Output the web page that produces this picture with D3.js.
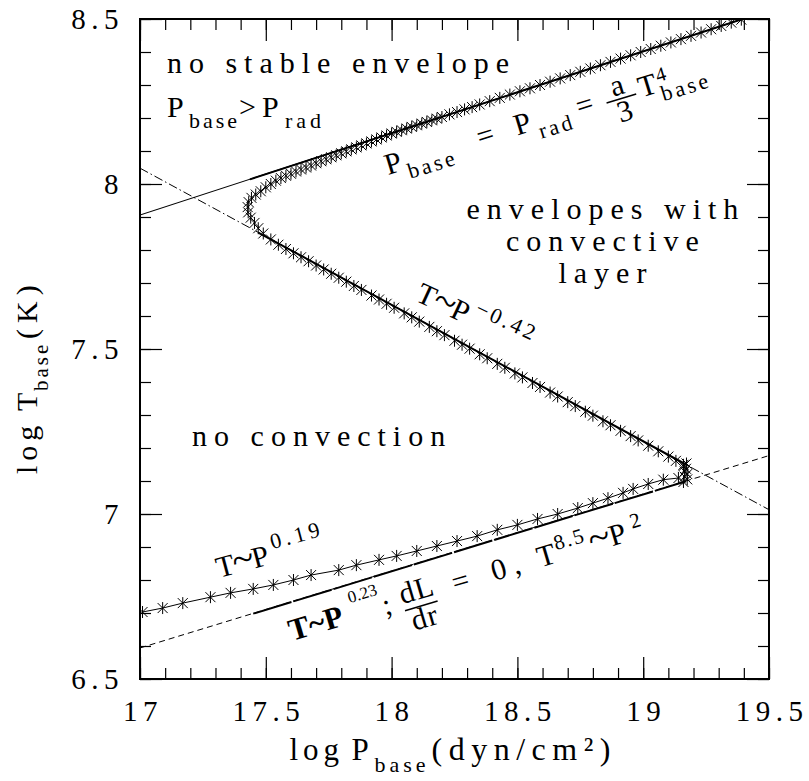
<!DOCTYPE html>
<html><head><meta charset="utf-8">
<script src="https://cdn.jsdelivr.net/npm/d3@7"></script>
<style>body{margin:0;background:#fff}svg{display:block}</style>
</head><body><svg id="c" width="809" height="781"></svg>
<script>
// ---------------- data ----------------
const xDomain = [17, 19.5];
const yDomain = [6.5, 8.5];
const xTickValues = [17, 17.5, 18, 18.5, 19, 19.5];
const xTickLabels = ["17", "17.5", "18", "18.5", "19", "19.5"];
const yTickValues = [6.5, 7, 7.5, 8, 8.5];
const yTickLabels = ["6.5", "7", "7.5", "8", "8.5"];

// reference lines (log P, log T) end points
const pradLineP = [17, 19.5];          // P_base = P_rad = aT^4/3
const pradLineT = [7.906, 8.526];
const negLineP = [17, 19.5];           // T ~ P^-0.42
const negLineT = [8.048, 7.013];
const dLdrLineP = [17, 19.5];          // dL/dr = 0 , T^8.5 ~ P^2
const dLdrLineT = [6.594, 7.177];
// solid model segments
const modelUpP = [17.437, 19.5];
const modelUpT = [8.014, 8.526];
const modelMidP = [17.47, 19.17];
const modelMidT = [7.853, 7.150];
const modelLowP = [17.45, 19.17];
const modelLowT = [6.698, 7.099];

// envelope-base sequence (crosses)
const lowerP = [17.01,17.09,17.17,17.28,17.36,17.45,17.53,17.61,17.68,17.79,17.86,17.95,18.02,18.10,18.18,18.26,18.34,18.42,18.50,18.58,18.66,18.74,18.80,18.86,18.92,18.96,19.02,19.08,19.14];
const lowerT = [6.703,6.715,6.730,6.748,6.761,6.773,6.785,6.800,6.815,6.830,6.845,6.861,6.873,6.888,6.903,6.918,6.933,6.952,6.967,6.985,7.000,7.018,7.033,7.048,7.064,7.076,7.091,7.104,7.109];
const turnP = [19.16,19.175,19.165,19.175,19.165,19.17,19.16,19.172];
const turnT = [7.097,7.105,7.113,7.121,7.129,7.137,7.145,7.153];
const midP = [19.16,19.13,19.10,19.06,19.02,18.98,18.95,18.91,18.87,18.84,18.80,18.77,18.73,18.70,18.66,18.63,18.59,18.56,18.52,18.49,18.45,18.42,18.38,18.35,18.31,18.28,18.25,18.21,18.18,18.15,18.11,18.08,18.05,18.01,17.98,17.95,17.92,17.88,17.85,17.82,17.79,17.76,17.73,17.70,17.67,17.64,17.61,17.58,17.55,17.52,17.49,17.47];
const midT = [7.149,7.161,7.174,7.190,7.207,7.223,7.236,7.252,7.269,7.281,7.298,7.310,7.327,7.339,7.356,7.368,7.385,7.397,7.414,7.426,7.443,7.455,7.472,7.484,7.501,7.513,7.525,7.542,7.554,7.567,7.583,7.596,7.608,7.625,7.637,7.650,7.662,7.679,7.691,7.704,7.716,7.728,7.741,7.753,7.766,7.778,7.790,7.803,7.816,7.832,7.850,7.866];
const bendP = [17.455,17.44,17.43,17.428,17.432,17.443,17.46,17.48,17.50,17.52,17.54,17.56];
const bendT = [7.882,7.898,7.914,7.930,7.945,7.958,7.968,7.978,7.990,8.000,8.010,8.018];
const upperP = [17.58,17.60,17.62,17.64,17.66,17.68,17.70,17.72,17.74,17.76,17.78,17.80,17.82,17.84,17.86,17.88,17.90,17.92,17.94,17.96,17.98,18.00,18.02,18.04,18.06,18.08,18.10,18.12,18.14,18.16,18.18,18.20,18.23,18.26,18.29,18.32,18.35,18.39,18.43,18.47,18.51,18.55,18.59,18.63,18.67,18.71,18.75,18.79,18.83,18.87,18.91,18.95,18.99,19.03,19.07,19.11,19.15,19.19,19.23,19.27,19.31,19.35,19.39];
const upperT = [8.025,8.031,8.038,8.044,8.050,8.056,8.063,8.069,8.075,8.081,8.087,8.093,8.099,8.105,8.111,8.117,8.123,8.129,8.135,8.141,8.147,8.153,8.158,8.163,8.168,8.173,8.178,8.183,8.188,8.193,8.198,8.203,8.211,8.218,8.226,8.233,8.241,8.251,8.261,8.271,8.281,8.290,8.300,8.310,8.320,8.330,8.340,8.350,8.360,8.370,8.380,8.390,8.400,8.409,8.419,8.429,8.439,8.449,8.459,8.469,8.479,8.489,8.498];

// ---------------- drawing ----------------
const FONT = "'Liberation Serif','Times New Roman',serif";
const svg = d3.select("#c");
const L = 140, R = 769, T = 19, B = 679;
const x = d3.scaleLinear().domain(xDomain).range([L, R]);
const y = d3.scaleLinear().domain(yDomain).range([B, T]);
const zip = (P, Q) => P.map((p, i) => [p, Q[i]]);
const line = d3.line().x(d => x(d[0])).y(d => y(d[1]));

svg.append("defs").append("clipPath").attr("id", "clip")
  .append("rect").attr("x", L).attr("y", T).attr("width", R - L).attr("height", B - T);
const plot = svg.append("g").attr("clip-path", "url(#clip)");

function path(P, Q, w, dash) {
  const p = plot.append("path").attr("d", line(zip(P, Q)))
    .attr("fill", "none").attr("stroke", "#000").attr("stroke-width", w);
  if (dash) p.attr("stroke-dasharray", dash);
}
path(pradLineP, pradLineT, 1.1);
path(negLineP, negLineT, 1, "9,3,1.5,3");
path(dLdrLineP, dLdrLineT, 1, "6,4");
path(modelUpP, modelUpT, 2);
path(modelMidP, modelMidT, 2);
path(modelLowP, modelLowT, 2, "40,2");
path(lowerP, lowerT, 1);

const pts = [].concat(zip(lowerP, lowerT), zip(turnP, turnT), zip(midP, midT), zip(bendP, bendT), zip(upperP, upperT));
plot.selectAll("path.m").data(pts).join("path").attr("class", "m")
  .attr("transform", d => `translate(${x(d[0])},${y(d[1])})`)
  .attr("d", "M-5,-5L5,5M-5,5L5,-5M0,-6L0,6")
  .attr("fill", "none").attr("stroke", "#000").attr("stroke-width", 1);

// axes (ticks inward on all four sides)
const minorX = d3.range(17, 19.5001, 0.1);
const minorY = d3.range(6.5, 8.5001, 0.1);
function ax(gen, scale, vals, size, tr) {
  const g = svg.append("g").attr("transform", tr)
    .call(gen(scale).tickValues(vals).tickSize(size).tickFormat(""));
  g.select(".domain").remove();
  g.selectAll("line").attr("stroke", "#000").attr("stroke-width", 1.2);
}
ax(d3.axisBottom, x, minorX, -11, `translate(0,${B})`);
ax(d3.axisBottom, x, xTickValues, -22, `translate(0,${B})`);
ax(d3.axisTop, x, minorX, -11, `translate(0,${T})`);
ax(d3.axisTop, x, xTickValues, -22, `translate(0,${T})`);
ax(d3.axisLeft, y, minorY, -11, `translate(${L},0)`);
ax(d3.axisLeft, y, yTickValues, -22, `translate(${L},0)`);
ax(d3.axisRight, y, minorY, -11, `translate(${R},0)`);
ax(d3.axisRight, y, yTickValues, -22, `translate(${R},0)`);
svg.append("rect").attr("x", L).attr("y", T).attr("width", R - L).attr("height", B - T)
  .attr("fill", "none").attr("stroke", "#000").attr("stroke-width", 2);

// tick labels
svg.selectAll("text.xl").data(xTickValues).join("text").attr("class", "xl")
  .attr("x", d => x(d) + 3).attr("y", 721).attr("text-anchor", "middle")
  .attr("font-family", FONT).attr("font-size", 29).attr("letter-spacing", 5.5)
  .text((d, i) => xTickLabels[i]);
svg.selectAll("text.yl").data(yTickValues).join("text").attr("class", "yl")
  .attr("x", 124).attr("y", d => y(d) + 10).attr("text-anchor", "end")
  .attr("font-family", FONT).attr("font-size", 29).attr("letter-spacing", 5.5)
  .text((d, i) => yTickLabels[i]);

// generic text with pieces in local coordinates
function label(px, py, rot, pieces) {
  const g = svg.append("g").attr("transform", `translate(${px},${py}) rotate(${rot})`);
  pieces.forEach(p => {
    const t = g.append("text").attr("x", p.u).attr("y", p.v)
      .attr("font-family", FONT).attr("font-size", p.s || 30)
      .attr("letter-spacing", p.ls === undefined ? 7 : p.ls)
      .attr("text-anchor", p.a || "start").text(p.t);
    if (p.w) t.attr("font-weight", p.w);
  });
  return g;
}

// axis titles
label(x(18.25), 760, 0, [
  {t: "log", u: -165, v: 0, s: 31, ls: 5},
  {t: "P", u: -103, v: 0, s: 31, ls: 0},
  {t: "base", u: -80, v: 12, s: 22, ls: 4},
  {t: "(dyn/cm²)", u: -23, v: 0, s: 32, ls: 6.5}
]);
label(37, y(7.5), -90, [
  {t: "log", u: -125, v: 0, ls: 5},
  {t: "T", u: -62, v: 0, ls: 0},
  {t: "base", u: -42, v: 11, s: 21, ls: 3},
  {t: "(K)", u: 10, v: 0, ls: 6}
]);

// annotations
label(x(17.107), y(8.336), 0, [{t: "no stable envelope", u: 0, v: 0}]);
label(x(17.107), y(8.203), 0, [
  {t: "P", u: 0, v: 0, ls: 0},
  {t: "base", u: 22, v: 11, s: 22, ls: 3},
  {t: ">", u: 72, v: 0, ls: 0},
  {t: "P", u: 95, v: 0, ls: 0},
  {t: "rad", u: 118, v: 11, s: 22, ls: 4}
]);
label(x(17.986), y(8.027), -17, [
  {t: "P", u: 0, v: 0, ls: 0},
  {t: "base", u: 20, v: 10, s: 22, ls: 3},
  {t: "=", u: 96, v: 0, ls: 0},
  {t: "P", u: 135, v: 0, ls: 0},
  {t: "rad", u: 157, v: 10, s: 22, ls: 3},
  {t: "=", u: 200, v: 0, ls: 0},
  {t: "a", u: 245, v: -9, a: "middle", ls: 0},
  {t: "3", u: 245, v: 18, a: "middle", ls: 0},
  {t: "T", u: 265, v: 0, ls: 0},
  {t: "4", u: 285, v: -10, s: 20, ls: 0},
  {t: "base", u: 285, v: 10, s: 22, ls: 3}
]).append("line").attr("x1", 230).attr("x2", 261).attr("y1", -5).attr("y2", -5)
  .attr("stroke", "#000").attr("stroke-width", 1.5);

label(x(18.84), y(7.894), 0, [
  {t: "envelopes with", u: 3, v: 0, a: "middle"},
  {t: "convective", u: 3, v: 32, a: "middle"},
  {t: "layer", u: 3, v: 64, a: "middle"}
]);
label(x(18.09), y(7.648), 25, [
  {t: "T", u: 0, v: 0, ls: 0},
  {t: "~", u: 18, v: 1, s: 40, ls: 0},
  {t: "P", u: 38, v: 0, ls: 0},
  {t: "−0.42", u: 60, v: -13, s: 22, ls: 3}
]);
label(x(17.207), y(7.206), 0, [{t: "no convection", u: 0, v: 0}]);
label(x(17.314), y(6.806), -15, [
  {t: "T", u: 0, v: 0, ls: 0},
  {t: "~", u: 17, v: 1, s: 40, ls: 0},
  {t: "P", u: 37, v: 0, ls: 0},
  {t: "0.19", u: 59, v: -14, s: 22, ls: 4}
]);
label(x(17.604), y(6.615), -16.5, [
  {t: "T~P", u: 0, v: 0, s: 31, w: "bold", ls: 0},
  {t: "0.23", u: 66, v: -20, s: 17, ls: 0},
  {t: ";", u: 97, v: 2, ls: 0},
  {t: "dL", u: 134, v: -4, a: "middle", ls: 1},
  {t: "dr", u: 134, v: 25, a: "middle", ls: 1},
  {t: "=", u: 170, v: 0, ls: 0},
  {t: "0,", u: 211, v: 0, ls: 7},
  {t: "T", u: 259, v: 0, ls: 0},
  {t: "8.5", u: 279, v: -12, s: 21, ls: 2},
  {t: "~", u: 313, v: 1, s: 40, ls: 0},
  {t: "P", u: 334, v: 0, ls: 0},
  {t: "2", u: 358, v: -11, s: 21, ls: 0}
]).append("line").attr("x1", 117).attr("x2", 151).attr("y1", 3).attr("y2", 3)
  .attr("stroke", "#000").attr("stroke-width", 1.5);
</script>
</body></html>
